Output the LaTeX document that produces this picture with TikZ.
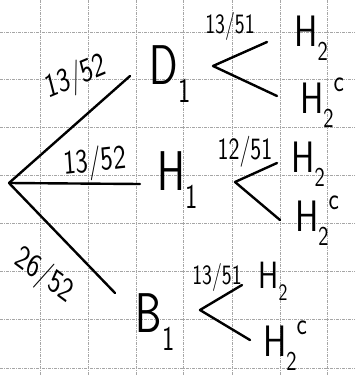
\documentclass[tikz,border=0pt]{standalone}
\usepackage{fontspec}
\usepackage{graphicx}
\newcommand{\lowidx}[1]{\raisebox{-0.32em}{\scalebox{0.62}{#1}}}
\newcommand{\lowhigh}[2]{\raisebox{-0.32em}{\scalebox{0.62}{#1}}\raisebox{0.5em}{\scalebox{0.7}{#2}}}
\begin{document}
\begin{tikzpicture}[x=1pt,y=-1pt,
  gridline/.style={gray!70,line width=0.8pt,dash pattern=on 3pt off 1pt on 1pt off 1pt},
  stroke/.style={line width=2.4pt,line cap=round,line join=round},
  big/.style={font=\sffamily\fontsize{56}{56}\selectfont,xscale=0.75,inner sep=0pt},
  mid/.style={font=\sffamily\fontsize{44}{44}\selectfont,xscale=0.8,inner sep=0pt},
  frac/.style={font=\sffamily\fontsize{28}{28}\selectfont,xscale=0.75,inner sep=0pt},
  bigfrac/.style={font=\sffamily\fontsize{34}{34}\selectfont,xscale=0.78,inner sep=0pt}]
\useasboundingbox (0,0) rectangle (355,375);
\fill[white] (0,0) rectangle (355,375);
% grid
\foreach \gx in {40,88,136,183,232,280,327} \draw[gridline] (\gx,0) -- (\gx,375);
\foreach \gy in {32,79,127,175,223,271,319,368} \draw[gridline] (0,\gy) -- (355,\gy);
% first stage
\coordinate (root) at (9,183);
\coordinate (dtip) at (130,76);
\coordinate (htip) at (140,184);
\coordinate (btip) at (115,293);
\draw[stroke] (root) -- (dtip);
\draw[stroke] (root) -- (htip);
\draw[stroke] (root) -- (btip);
\node[bigfrac,rotate=18] (l1) at (76,78) {13/52};
\node[bigfrac,rotate=5] (l2) at (95,163) {13/52};
\node[bigfrac,rotate=-30] (l3) at (44,276) {26/52};
\node[big] (D1) at (170,74) {D\lowidx{1}};
\node[big] (H1) at (178,180) {H\lowidx{1}};
\node[big] (B1) at (155,322) {B\lowidx{1}};
% D subtree
\coordinate (dv) at (213,66);
\coordinate (du) at (267,42);
\coordinate (dd) at (277,96);
\draw[stroke] (du) -- (dv) -- (dd);
\node[frac] (dl) at (230,26) {13/51};
\node[mid] (dH) at (311,38) {H\lowidx{2}};
\node[mid] (dHc) at (322,103) {H\lowhigh{2}{c}};
% H subtree
\coordinate (hv) at (235,182);
\coordinate (hu) at (277,163);
\coordinate (hd) at (280,220);
\draw[stroke] (hu) -- (hv) -- (hd);
\node[frac,font=\sffamily\fontsize{31}{31}\selectfont] (hl) at (245,152) {12/51};
\node[mid] (hH) at (308,164) {H\lowidx{2}};
\node[mid] (hHc) at (317,221) {H\lowhigh{2}{c}};
% B subtree
\coordinate (bv) at (200,310);
\coordinate (bu) at (242,285);
\coordinate (bd) at (250,340);
\draw[stroke] (bu) -- (bv) -- (bd);
\node[frac] (bl) at (217,277) {13/51};
\node[mid,font=\sffamily\fontsize{38}{38}\selectfont] (bH) at (273,281) {H\lowidx{2}};
\node[mid] (bHc) at (285,346) {H\lowhigh{2}{c}};
\end{tikzpicture}
\end{document}
